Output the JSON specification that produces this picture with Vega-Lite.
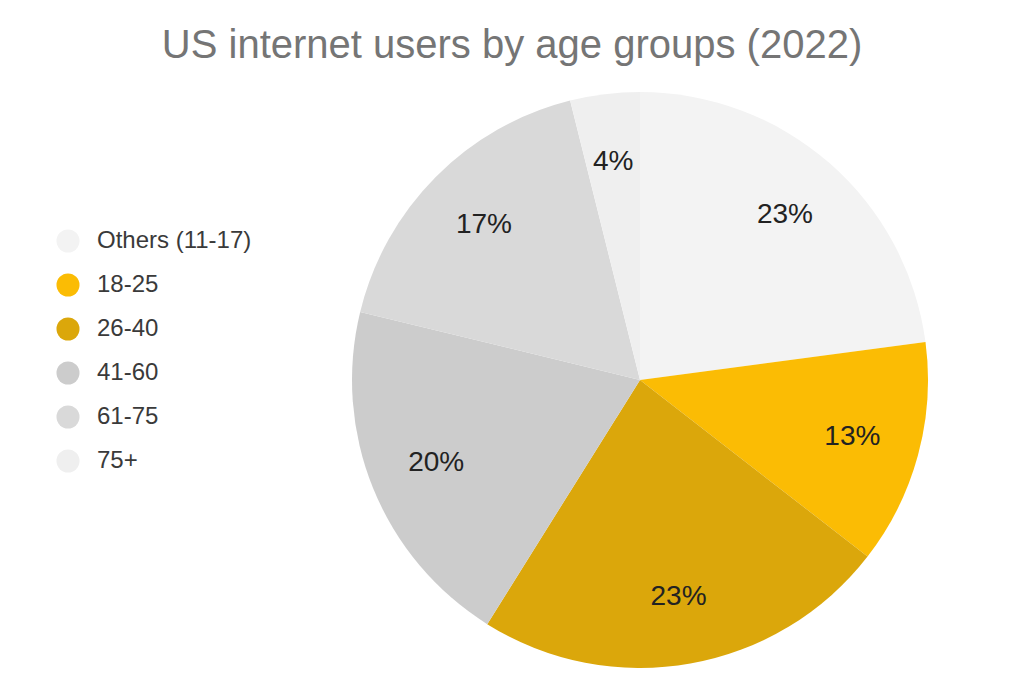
{
  "$schema": "https://vega.github.io/schema/vega-lite/v6.json",
  "width": 1024,
  "height": 699,
  "autosize": {"type": "none"},
  "padding": 0,
  "background": "#ffffff",
  "config": {"view": {"stroke": null}},
  "title": {
    "text": "US internet users by age groups (2022)",
    "font": "Liberation Sans",
    "fontSize": 40,
    "fontWeight": "normal",
    "color": "#757575",
    "anchor": "middle",
    "baseline": "alphabetic",
    "offset": 0,
    "dy": 98
  },
  "data": {
    "values": [
      {"group": "Others (11-17)", "share": 0.229, "rank": 1},
      {"group": "18-25", "share": 0.126, "rank": 2},
      {"group": "26-40", "share": 0.234, "rank": 3},
      {"group": "41-60", "share": 0.199, "rank": 4},
      {"group": "61-75", "share": 0.173, "rank": 5},
      {"group": "75+", "share": 0.039, "rank": 6}
    ]
  },
  "encoding": {
    "theta": {"field": "share", "type": "quantitative", "stack": true},
    "order": {"field": "rank", "type": "quantitative"},
    "x": {"value": 640},
    "y": {"value": 380}
  },
  "layer": [
    {
      "mark": {"type": "arc", "outerRadius": 288},
      "encoding": {
        "color": {
          "field": "group",
          "type": "nominal",
          "scale": {
            "domain": ["Others (11-17)", "18-25", "26-40", "41-60", "61-75", "75+"],
            "range": ["#f3f3f3", "#fbbc04", "#dba70b", "#cccccc", "#d9d9d9", "#efefef"]
          },
          "legend": {
            "title": null,
            "orient": "none",
            "legendX": 56,
            "legendY": 229,
            "symbolType": "circle",
            "symbolSize": 530,
            "symbolStrokeWidth": 0,
            "labelFont": "Liberation Sans",
            "labelFontSize": 24,
            "labelColor": "#3a3a3a",
            "labelOffset": 17,
            "rowPadding": 20,
            "padding": 0
          }
        }
      }
    },
    {
      "mark": {"type": "text", "radius": 220, "font": "Liberation Sans", "fontSize": 28, "color": "#222222"},
      "encoding": {
        "text": {"field": "share", "type": "quantitative", "format": ".0%"}
      }
    }
  ]
}
